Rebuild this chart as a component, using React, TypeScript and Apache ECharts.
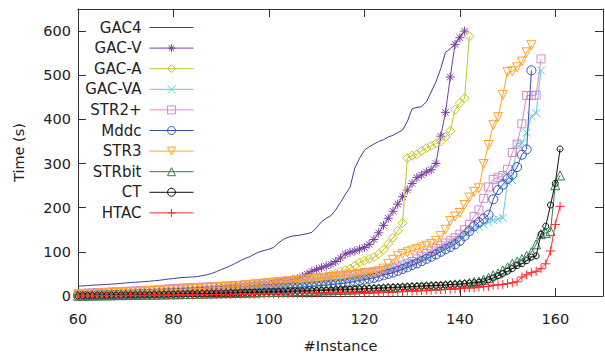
import React, { useEffect, useRef } from "react";
import * as echarts from "echarts";

const X_START = 60;
const xTicks = [60, 80, 100, 120, 140, 160];
const yTicks = [0, 100, 200, 300, 400, 500, 600];
const seriesNames = ["GAC4", "GAC-V", "GAC-A", "GAC-VA", "STR2+", "Mddc", "STR3", "STRbit", "CT", "HTAC"];

// values for x = 60, 61, 62, ...
const gac4 = [
  22, 23, 23.5, 24.5, 25, 25.5, 26, 27, 27.5, 28.5,
  29.5, 30.5, 31, 32, 32.5, 33.5, 34.5, 35.5, 37, 38.5,
  39.5, 41, 42, 42.5, 43, 44, 46, 48, 51, 55,
  60, 64, 69, 74, 80, 85, 89, 95, 100, 103,
  106, 110, 120, 128, 133, 136, 137, 139, 141, 144,
  155, 168, 176, 182, 195, 212, 230, 246, 290, 312,
  330, 338, 344, 350, 354, 360, 364, 370, 376, 395,
  424, 427, 429, 440, 462, 485, 515, 552, 560, 570,
  588, 600,
];
const gacV = [
  3, 3.5, 4, 4, 4.5, 5, 5, 5.5, 6, 6,
  6.5, 7, 7, 7.5, 8, 8.5, 9, 9.5, 10, 10.5,
  11, 11.5, 12, 13, 13.5, 14, 15, 15.5, 16, 17,
  18, 19, 20, 21, 22, 23, 24, 25, 26, 27,
  28, 30, 32, 34, 35, 37, 39, 44, 50, 56,
  60, 64, 68, 72, 78, 86, 95, 99, 102, 106,
  110, 117, 128, 143, 160, 176, 192, 208, 225, 240,
  255, 268, 274, 281, 286, 300, 362, 416, 496, 570,
  585, 600,
];
const gacA = [
  2, 2, 2.5, 2.5, 3, 3, 3.5, 3.5, 4, 4,
  4.5, 5, 5, 5.5, 6, 6.5, 7, 7.5, 8, 8.5,
  9, 9.5, 10, 10.5, 11, 11.5, 12, 13, 13.5, 14,
  15, 15.5, 16, 17, 18, 19, 20, 21, 22, 23,
  24, 25, 26, 27, 28, 30, 31, 33, 35, 37,
  39, 42, 45, 48, 51, 55, 59, 62, 69, 76,
  80, 84, 88, 95, 105, 118, 132, 148, 165, 312,
  318, 321, 329, 335, 340, 345, 350, 360, 374, 422,
  437, 448, 588,
];
const gacVA = [
  2, 2, 2.5, 2.5, 3, 3, 3.5, 3.5, 4, 4,
  4.5, 4.5, 5, 5, 5.5, 6, 6, 6.5, 7, 7,
  7.5, 8, 8.5, 9, 9.5, 10, 10.5, 11, 11.5, 12,
  12.5, 13, 13.5, 14, 14.5, 15, 15.5, 16, 17, 18,
  19, 20, 21, 22, 23, 24, 25, 26, 27, 28,
  29, 30, 31, 32, 33, 35, 37, 39, 41, 43,
  45, 48, 51, 54, 57, 60, 63, 66, 70, 74,
  78, 82, 86, 90, 95, 100, 106, 112, 118, 125,
  132, 140, 145, 151, 157, 162, 167, 172, 174, 177,
  258, 262, 345, 346, 370, 407, 414, 511,
];
const str2p = [
  5, 6, 6.5, 7, 7.5, 8, 8.5, 9, 9.5, 10,
  10.5, 11, 11.5, 12, 12.5, 13, 13.5, 14, 15, 16,
  17, 17.5, 18, 18.5, 19, 19.5, 20, 20.5, 21, 21.5,
  22, 22.5, 23, 23.5, 24, 25, 26, 27, 28, 29,
  30, 31, 32, 33, 34, 35, 36, 37, 38, 39,
  40, 41, 42, 43, 44, 45, 46, 47, 48, 49,
  50, 52, 54, 56, 58, 60, 63, 66, 70, 74,
  78, 84, 90, 96, 102, 108, 114, 120, 126, 132,
  140, 150, 162, 180, 195, 221, 247, 264, 268, 273,
  287, 325, 344, 390, 454, 454, 455, 537,
];
const mddc = [
  1, 1.5, 1.5, 2, 2, 2.5, 2.5, 3, 3, 3.5,
  3.5, 4, 4, 4.5, 5, 5, 5.5, 6, 6, 6.5,
  7, 7, 7.5, 8, 8.5, 9, 9.5, 10, 10.5, 11,
  11.5, 12, 12.5, 13, 13.5, 14, 14.5, 15, 15.5, 16,
  16.5, 17, 17.5, 18, 18.5, 19, 19.5, 20, 21, 22,
  23, 24, 25, 26, 27, 28, 29, 31, 33, 35,
  37, 39, 41, 44, 47, 50, 53, 57, 61, 65,
  70, 74, 79, 84, 89, 94, 100, 106, 111, 117,
  125, 136, 147, 158, 167, 175, 184, 219, 240, 252,
  265, 275, 292, 320, 332, 511,
];
const str3 = [
  3, 3.5, 4, 4.5, 5, 5.5, 6, 6.5, 7, 7.5,
  8, 8.5, 9, 9.5, 10, 10.5, 11, 12, 12.5, 13,
  13.5, 14, 14.5, 15, 16, 16.5, 17, 18, 18.5, 19,
  20, 20.5, 21, 22, 23, 24, 25, 26, 27, 28,
  29, 30, 31, 32, 33, 34, 35, 36, 37, 38,
  39, 40, 41, 43, 44, 45, 46, 47, 48, 50,
  52, 53, 54, 56, 62, 72, 82, 90, 95, 99,
  103, 106, 110, 114, 118, 125, 136, 150, 170, 180,
  188, 206, 223, 236, 244, 299, 342, 387, 405, 455,
  507, 509, 518, 531, 552, 568,
];
const strbit = [
  0.5, 0.5, 1, 1, 1, 1.5, 1.5, 1.5, 2, 2,
  2, 2.5, 2.5, 2.5, 3, 3, 3, 3.5, 3.5, 4,
  4, 4, 4.5, 4.5, 5, 5, 5.5, 5.5, 6, 6,
  6.5, 6.5, 7, 7, 7.5, 7.5, 8, 8, 8.5, 9,
  9, 9.5, 9.5, 10, 10, 10.5, 11, 11, 11.5, 12,
  12, 12.5, 13, 13, 13.5, 14, 14, 14.5, 15, 15.5,
  16, 16.5, 17, 17.5, 18, 18.5, 19, 19.5, 20, 20.5,
  21, 21.5, 22, 22.5, 23, 23.5, 24, 25, 26, 26.5,
  27, 28, 30, 32, 33, 37, 41, 47, 51, 58,
  65, 73, 78, 84, 91, 99, 117, 140, 143, 147,
  251, 273,
];
const ct = [
  0.5, 1, 1, 1, 1.5, 1.5, 1.5, 2, 2, 2,
  2.5, 2.5, 2.5, 3, 3, 3, 3.5, 3.5, 4, 4,
  4, 4.5, 4.5, 5, 5, 5, 5.5, 5.5, 6, 6,
  6.5, 6.5, 7, 7, 7.5, 8, 8, 8.5, 8.5, 9,
  9.5, 9.5, 10, 10, 10.5, 11, 11, 11.5, 12, 12,
  12.5, 13, 13, 13.5, 14, 14.5, 15, 15, 15.5, 16,
  16.5, 17, 17.5, 18, 18.5, 19, 19.5, 20, 20.5, 21,
  21.5, 22, 22.5, 23, 23.5, 24, 24.5, 25, 26, 26.5,
  27, 28, 29, 30, 31, 33, 37, 41, 46, 51,
  56, 62, 69, 73, 80, 88, 91, 140, 158, 206,
  255, 333,
];
const htac = [
  0.5, 0.5, 0.5, 0.5, 1, 1, 1, 1, 1, 1,
  1.5, 1.5, 1.5, 1.5, 1.5, 2, 2, 2, 2, 2,
  2, 2.5, 2.5, 2.5, 2.5, 3, 3, 3, 3, 3.5,
  3.5, 3.5, 3.5, 4, 4, 4, 4, 4.5, 4.5, 4.5,
  5, 5, 5, 5, 5.5, 5.5, 5.5, 6, 6, 6,
  6.5, 6.5, 6.5, 7, 7, 7, 7.5, 7.5, 7.5, 8,
  8, 8, 8.5, 8.5, 9, 9, 9.5, 10, 10.5, 11,
  11.5, 12, 12.5, 13, 13.5, 14, 14.5, 15, 15.5, 16,
  17, 18.5, 18.5, 18.5, 20, 21, 22, 24.5, 25, 26,
  28, 30, 32, 43, 48, 53, 56, 62, 73, 102,
  162, 203,
];

const seriesValues = [gac4, gacV, gacA, gacVA, str2p, mddc, str3, strbit, ct, htac];
const colors = ["#3f3f8f", "#7b3f9f", "#c4c42c", "#62cce0", "#d48ccc", "#3350b0", "#ffa42a", "#2f7f4f", "#111111", "#ff2a2a"];
const symbols = [
  "none",
  "path://M5,0L5,10M0,5L10,5M1.5,1.5L8.5,8.5M1.5,8.5L8.5,1.5",
  "path://M5,0L10,5L5,10L0,5Z",
  "path://M0,0L10,10M0,10L10,0",
  "path://M0,0L10,0L10,10L0,10Z",
  "circle",
  "path://M0,0L10,0L5,9Z",
  "path://M5,0L10,9L0,9Z",
  "circle",
  "path://M5,0L5,10M0,5L10,5",
];
const symbolSizes = [0, 9, 9, 8, 8, 9, 9, 9, 6, 9];

const FONT = "DejaVu Sans";
const TXT = "#222";
const AX = "#333";

export default function App() {
  const ref = useRef<HTMLDivElement>(null);
  useEffect(() => {
    if (!ref.current) return;
    const chart = echarts.init(ref.current, undefined, { renderer: "svg" });
    const axisLine = { show: true, onZero: false, lineStyle: { color: AX, width: 1 } };
    const series = seriesNames.map((name, i) => ({
      name,
      type: "line",
      data: seriesValues[i].map((v, j) => [X_START + j, v]),
      symbol: symbols[i],
      symbolSize: symbolSizes[i],
      showSymbol: symbols[i] !== "none",
      lineStyle: { color: colors[i], width: 1 },
      itemStyle: {
        color: i === 0 ? colors[i] : "rgba(0,0,0,0)",
        borderColor: colors[i],
        borderWidth: 1,
      },
      emphasis: { disabled: true },
      z: 2 + i,
    }));
    const legend = seriesNames.map((name, i) => ({
      data: [name],
      orient: "horizontal",
      align: "right",
      right: 411,
      top: 20 + i * 20.6,
      itemWidth: 44,
      itemHeight: 10,
      itemGap: 0,
      padding: 0,
      selectedMode: false,
      lineStyle: { width: 1 },
      textStyle: { fontSize: 15, color: TXT, fontFamily: FONT, padding: [0, 3, 0, 0] },
      ...(i === 0 ? { itemStyle: { color: "rgba(0,0,0,0)", borderWidth: 0 } } : { itemStyle: { borderWidth: 1 } }),
    }));
    chart.setOption({
      animation: false,
      backgroundColor: "#fff",
      textStyle: { fontFamily: FONT },
      grid: { left: 78, right: 2, top: 9, bottom: 57, containLabel: false },
      legend,
      xAxis: [
        {
          type: "value", min: 60, max: 170, interval: 20, position: "bottom",
          axisLine,
          axisTick: { show: true, inside: true, length: 8, customValues: xTicks, lineStyle: { color: AX } },
          axisLabel: { customValues: xTicks, margin: 15, fontSize: 14.5, color: TXT, fontFamily: FONT,
            formatter: (v: number) => (xTicks.includes(v) ? String(v) : "") },
          splitLine: { show: false },
          name: "#Instance", nameLocation: "middle", nameGap: 42,
          nameTextStyle: { fontSize: 14.5, color: TXT, fontFamily: FONT },
        },
        {
          type: "value", min: 60, max: 170, interval: 20, position: "top",
          axisLine,
          axisTick: { show: true, inside: true, length: 8, customValues: xTicks, lineStyle: { color: AX } },
          axisLabel: { show: false },
          splitLine: { show: false },
        },
      ],
      yAxis: [
        {
          type: "value", min: 0, max: 650, interval: 100, position: "left",
          axisLine,
          axisTick: { show: true, inside: true, length: 8, customValues: yTicks, lineStyle: { color: AX } },
          axisLabel: { customValues: yTicks, margin: 7, fontSize: 14.5, color: TXT, fontFamily: FONT,
            formatter: (v: number) => (yTicks.includes(v) ? String(v) : "") },
          splitLine: { show: false },
          name: "Time (s)", nameLocation: "middle", nameGap: 52,
          nameTextStyle: { fontSize: 14.5, color: TXT, fontFamily: FONT },
        },
        {
          type: "value", min: 0, max: 650, interval: 100, position: "right",
          axisLine,
          axisTick: { show: true, inside: true, length: 8, customValues: yTicks, lineStyle: { color: AX } },
          axisLabel: { show: false },
          splitLine: { show: false },
        },
      ],
      series,
    });
    return () => chart.dispose();
  }, []);
  return <div ref={ref} style={{ position: "fixed", left: 0, top: 0, width: 605, height: 358 }} />;
}
